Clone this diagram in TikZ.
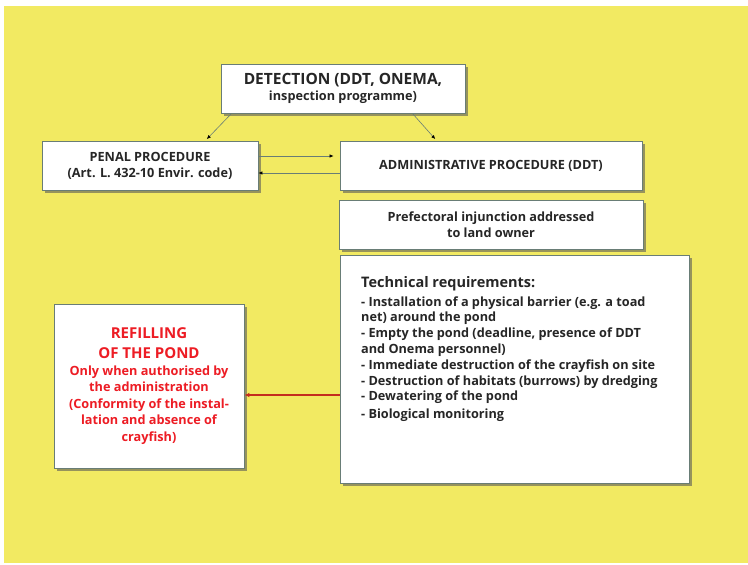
\documentclass[tikz,border=0pt]{standalone}
\usepackage{fontspec}
\setmainfont{Open Sans}
\usetikzlibrary{arrows.meta,shadows}
\definecolor{pondyellow}{RGB}{242,234,98}
\definecolor{boxline}{RGB}{105,125,118}
\definecolor{refillred}{RGB}{237,28,36}
\definecolor{redline}{RGB}{196,45,30}

\begin{document}
\begin{tikzpicture}[x=1pt,y=-1pt]
    \tikzstyle{box}=[draw=boxline, fill=white, line width=0.8pt, inner sep=0pt, align=center, text=black!85, font=\bfseries\fontsize{12.7}{16}\selectfont, drop shadow={shadow xshift=2.5pt, shadow yshift=-2.5pt, fill=black!65, opacity=0.6}]
    \tikzstyle{link}=[boxline, line width=0.6pt, -{Latex[length=4pt,width=3.5pt,color=black]}]

    \useasboundingbox (0,0) rectangle (748,565);
    \fill[pondyellow] (4,6) rectangle (748,563);

    \node[box, minimum width=244pt, minimum height=49pt] (detect) at (343,88.5) {{\fontsize{15.5}{17}\selectfont DETECTION (DDT, ONEMA,}\\inspection programme)};
    \node[box, minimum width=216pt, minimum height=49pt] (penal) at (150,165.5) {PENAL PROCEDURE\\(Art. L. 432-10 Envir. code)};
    \node[box, minimum width=302pt, minimum height=49pt] (admin) at (491,165.5) {ADMINISTRATIVE PROCEDURE (DDT)};
    \node[box, minimum width=304pt, minimum height=49pt] (prefect) at (491,224.5) {Prefectoral injunction addressed\\to land owner};
    \node[box, minimum width=349pt, minimum height=228pt] (tech) at (514.5,369) {};
    \node[anchor=north west, align=left, inner sep=0pt, text=black!85, font=\bfseries\fontsize{12.7}{15.8}\selectfont] (techtext) at (361,276)
        {{\fontsize{14.5}{17}\selectfont Technical requirements:}\\[3pt]
         - Installation of a physical barrier (e.g. a toad\\
         net) around the pond\\
         - Empty the pond (deadline, presence of DDT\\
         and Onema personnel)\\
         - Immediate destruction of the crayfish on site\\
         - Destruction of habitats (burrows) by dredging\\
         - Dewatering of the pond\\[2pt]
         - Biological monitoring};
    \node[box, minimum width=190pt, minimum height=164pt, text=refillred, font=\bfseries\fontsize{12.7}{16.5}\selectfont] (refill) at (149,386)
        {{\fontsize{15}{20}\selectfont REFILLING}\\[4pt]{\fontsize{15}{20}\selectfont OF THE POND}\\
         Only when authorised by\\the administration\\(Conformity of the instal-\\lation and absence of\\crayfish)};

    \draw[link, shorten >=2pt] ([xshift=11pt]detect.south west) -- ([xshift=-53pt]penal.north east);
    \draw[link, shorten >=2pt] ([xshift=-53pt]detect.south east) -- ([xshift=97pt]admin.north west);
    \draw[link, shorten >=6pt] (penal.east |- 0,156) -- (admin.west |- 0,156);
    \draw[link] (admin.west |- 0,173) -- (penal.east |- 0,173);
    \draw[redline, line width=1.5pt, -{Latex[length=5pt,width=4.5pt]}] (tech.west |- 0,395) -- (refill.east |- 0,395);
\end{tikzpicture}
\end{document}
